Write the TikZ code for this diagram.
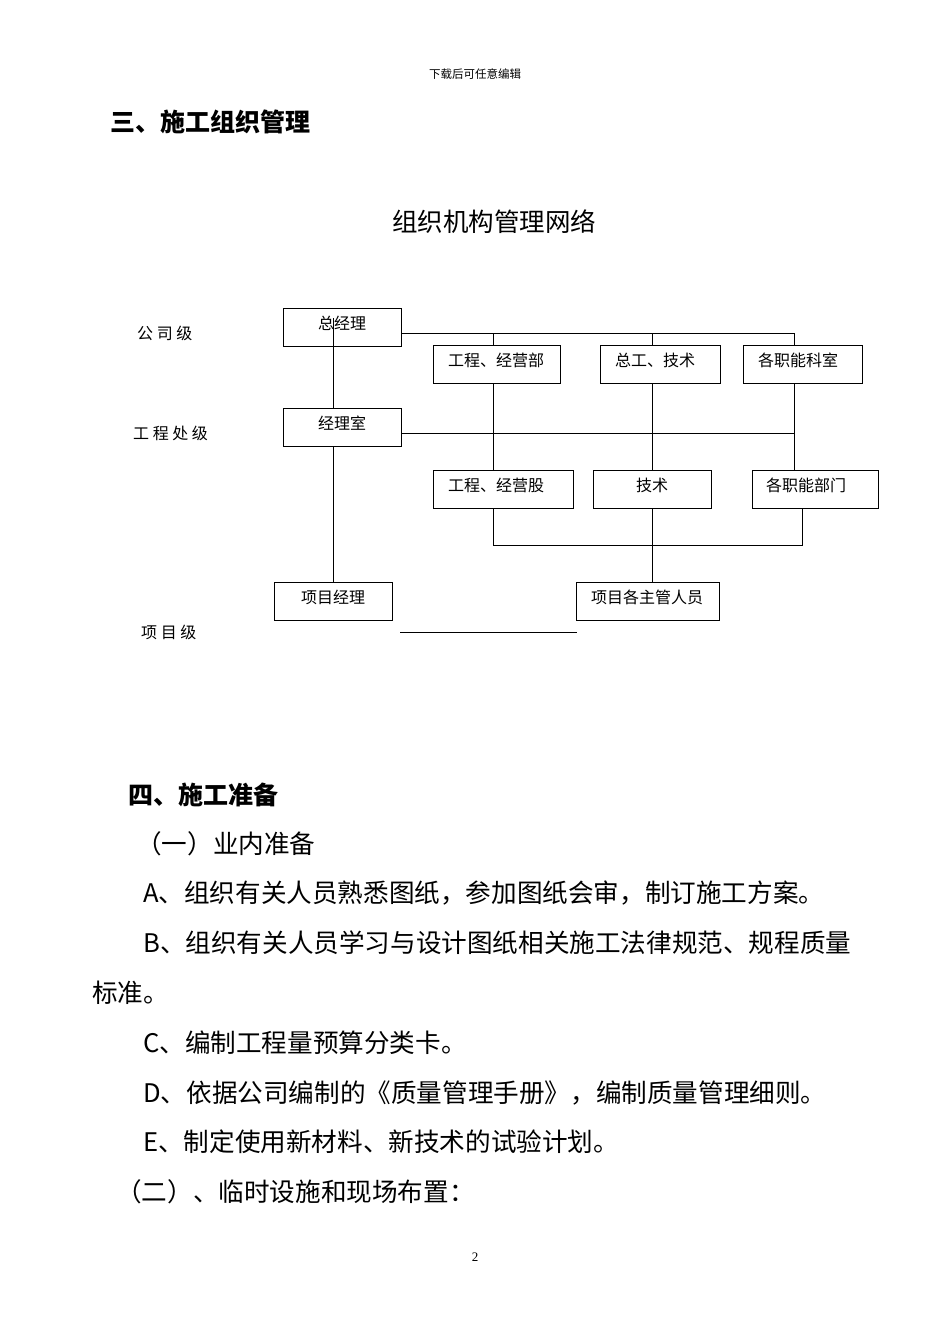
\documentclass[tikz,border=0pt]{standalone}
\usepackage{fontspec}
\setmainfont{Liberation Serif}
\newfontfamily\cjk{Noto Sans CJK SC}
\begin{document}
\begin{tikzpicture}[x=1pt,y=-1pt,
  ln/.style={line width=0.8pt},
  bt/.style={font=\cjk\fontsize{16}{17}\selectfont},
  lv/.style={anchor=west,inner sep=0,font=\cjk\fontsize{16}{17}\selectfont},
  tx/.style={anchor=west,inner sep=0,font=\cjk\fontsize{25.6}{27}\selectfont}]
\useasboundingbox (0,0) rectangle (950,1344);
\node[font=\cjk\fontsize{11.5}{12}\selectfont] (hd) at (475,74) {下载后可任意编辑};
\node[anchor=west,inner sep=0,font=\cjk\bfseries\fontsize{25}{26}\selectfont] (h3) at (110,122) {三、施工组织管理};
\node[font=\cjk\fontsize{25.5}{26}\selectfont] (tt) at (494,222) {组织机构管理网络};
\node[lv] (l1) at (137,333) {公 司 级};
\node[lv] (l2) at (133,433) {工 程 处 级};
\node[lv] (l3) at (141,632) {项 目 级};
% boxes
\draw[ln] (283,308) rectangle (401,346); \node[bt] (a) at (342,323) {总经理};
\draw[ln] (433,345) rectangle (560,383); \node[bt] (b1) at (496,360) {工程、经营部};
\draw[ln] (600,345) rectangle (720,383); \node[bt] (b2) at (655,360) {总工、技术};
\draw[ln] (743,345) rectangle (862,383); \node[bt] (b3) at (798,360) {各职能科室};
\draw[ln] (283,408) rectangle (401,446); \node[bt] (c) at (342,423) {经理室};
\draw[ln] (433,470) rectangle (573,508); \node[bt] (d1) at (496,485) {工程、经营股};
\draw[ln] (593,470) rectangle (711,508); \node[bt] (d2) at (652,485) {技术};
\draw[ln] (752,470) rectangle (878,508); \node[bt] (d3) at (806,485) {各职能部门};
\draw[ln] (274,582) rectangle (392,620); \node[bt] (e1) at (333,597) {项目经理};
\draw[ln] (576,582) rectangle (719,620); \node[bt] (e2) at (647,597) {项目各主管人员};
% connectors
\draw[ln] (401,333) -- (794,333);
\draw[ln] (493,333) -- (493,345);
\draw[ln] (652,333) -- (652,345);
\draw[ln] (794,333) -- (794,345);
\draw[ln] (333,318) -- (333,408);
\draw[ln] (333,446) -- (333,582);
\draw[ln] (401,433) -- (794,433);
\draw[ln] (493,383) -- (493,470);
\draw[ln] (652,383) -- (652,470);
\draw[ln] (794,383) -- (794,470);
\draw[ln] (493,508) -- (493,545) -- (802,545) -- (802,508);
\draw[ln] (652,508) -- (652,582);
\draw[ln] (400,632) -- (577,632);
% section four
\node[anchor=west,inner sep=0,font=\cjk\bfseries\fontsize{25}{26}\selectfont] (h4) at (128,795) {四、施工准备};
\node[tx] (p1) at (136,844) {（一）业内准备};
\node[tx] (p2) at (143,893) {A、组织有关人员熟悉图纸，参加图纸会审，制订施工方案。};
\node[tx] (p3) at (143,943) {B、组织有关人员学习与设计图纸相关施工法律规范、规程质量};
\node[tx] (p4) at (92,993) {标准。};
\node[tx] (p5) at (143,1043) {C、编制工程量预算分类卡。};
\node[tx] (p6) at (143,1093) {D、依据公司编制的《质量管理手册》，编制质量管理细则。};
\node[tx] (p7) at (143,1142) {E、制定使用新材料、新技术的试验计划。};
\node[tx] (p8) at (116,1192) {（二）、临时设施和现场布置：};
\node[font=\fontsize{13}{14}\selectfont] (pg) at (475,1257) {2};
\end{tikzpicture}
\end{document}
